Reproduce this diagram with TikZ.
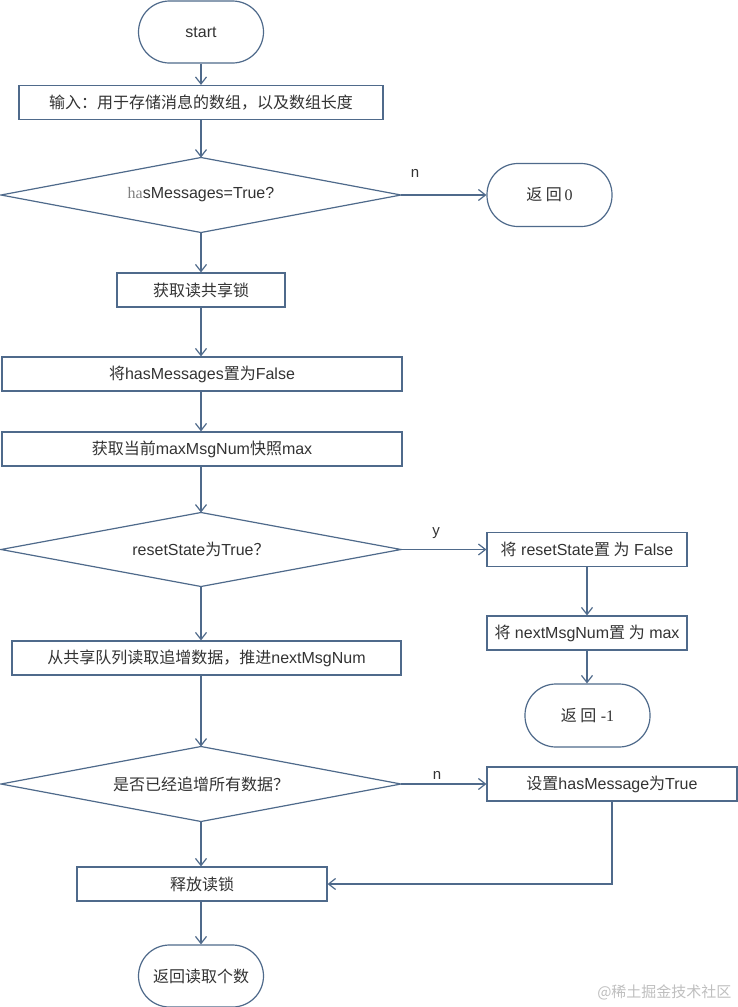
\documentclass[tikz,border=0pt]{standalone}
\usepackage{fontspec}
\setmainfont{Liberation Sans}
\newfontfamily\cjk{Noto Sans CJK SC}
\newfontfamily\serifr{Liberation Serif}
\usetikzlibrary{shapes.geometric,arrows.meta}
\newcommand\zh[1]{{\cjk #1}}
\definecolor{ln}{HTML}{4F6A8B}
\definecolor{txt}{HTML}{333333}
\begin{document}
\begin{tikzpicture}[x=1pt,y=-1pt,
  every node/.style={font=\fontsize{16}{18}\selectfont, text=txt},
  box/.style={draw=ln, line width=1.2pt, fill=white, inner sep=0pt, minimum height=34pt},
  term/.style={draw=ln, line width=1.2pt, fill=white, rounded corners=31pt, inner sep=0pt, minimum width=125pt, minimum height=62pt},
  dec/.style={inner sep=0pt, outer sep=0pt, minimum width=400pt, minimum height=75pt},
  decline/.style={draw=ln, line width=1.2pt, line join=miter},
  arr/.style={draw=ln, line width=1.2pt, -{Straight Barb[length=7pt,width=11pt]}},
  lab/.style={font=\fontsize{15}{18}\selectfont}
]
\fill[white] (0,0) rectangle (738,1007);
\useasboundingbox (0,0) rectangle (738,1007);

% main column
\node[term] (start) at (201,32) {start};
\node[box, minimum width=364pt] (in) at (201,102.5) {\zh{输入：用于存储消息的数组，以及数组长度}};
\node[dec] (d1) at (201,195) {{\serifr\color{gray}ha}sMessages=True?};
\node[term, minimum height=63pt] (r0) at (549.5,195) {\zh{返 回}\,{\serifr 0}};
\node[box, minimum width=168pt] (lock) at (201,290) {\zh{获取读共享锁}};
\node[box, minimum width=400pt] (setf) at (202,374) {\zh{将}hasMessages\zh{置为}False};
\node[box, minimum width=400pt] (snap) at (202,449) {\zh{获取当前}maxMsgNum\zh{快照}max};
\node[dec, minimum height=74pt] (d2) at (201,549.5) {resetState\zh{为}True\zh{？}};
\node[box, minimum width=200pt] (rs) at (587,549.5) {\zh{将} resetState\zh{置 为} False};
\node[box, minimum width=200pt] (nm) at (587,633) {\zh{将} nextMsgNum\zh{置 为} max};
\node[term, minimum height=63pt] (r1) at (587.5,715.5) {\zh{返 回} {\serifr -1}};
\node[box, minimum width=389pt] (read) at (206.5,658) {\zh{从共享队列读取追增数据，推进}nextMsgNum};
\node[dec] (d3) at (201,784) {\zh{是否已经追增所有数据？}};
\node[box, minimum width=250pt] (hm) at (612,784) {\zh{设置}hasMessage\zh{为}True};
\node[box, minimum width=250pt] (rel) at (202,884) {\zh{释放读锁}};
\node[term] (ret) at (201,976) {\zh{返回读取个数}};

% diamond outlines
\draw[decline] (d1.north) -- (d1.east) -- (d1.south) -- (d1.west) -- cycle;
\draw[decline] (d2.north) -- (d2.east) -- (d2.south) -- (d2.west) -- cycle;
\draw[decline] (d3.north) -- (d3.east) -- (d3.south) -- (d3.west) -- cycle;

% labels
\node[lab] (ln1) at (415,173) {n};
\node[lab] (ly) at (436,533) {y};
\node[lab] (ln2) at (437,775) {n};

% watermark
\node[text=black!25, font=\cjk\fontsize{15}{18}\selectfont, anchor=east] (wm) at (735,992) {@稀土掘金技术社区};

% connectors
\draw[arr] (start.south) -- (start.south |- in.north);
\draw[arr] (in.south) -- (in.south |- d1.north);
\draw[arr] (d1.east) -- (r0.west);
\draw[arr] (d1.south) -- (d1.south |- lock.north);
\draw[arr] (lock.south) -- (lock.south |- setf.north);
\draw[arr] (lock.south |- setf.south) -- (lock.south |- snap.north);
\draw[arr] (lock.south |- snap.south) -- (d2.north);
\draw[arr] (d2.east) -- (rs.west);
\draw[arr] (rs.south) -- (nm.north);
\draw[arr] (nm.south) -- (r1.north -| nm.south);
\draw[arr] (d2.south) -- (d2.south |- read.north);
\draw[arr] (d2.south |- read.south) -- (d3.north);
\draw[arr] (d3.east) -- (hm.west);
\draw[arr] (d3.south) -- (d3.south |- rel.north);
\draw[arr] (hm.south) |- (rel.east);
\draw[arr] (d3.south |- rel.south) -- (d3.south |- ret.north);
\end{tikzpicture}
\end{document}
